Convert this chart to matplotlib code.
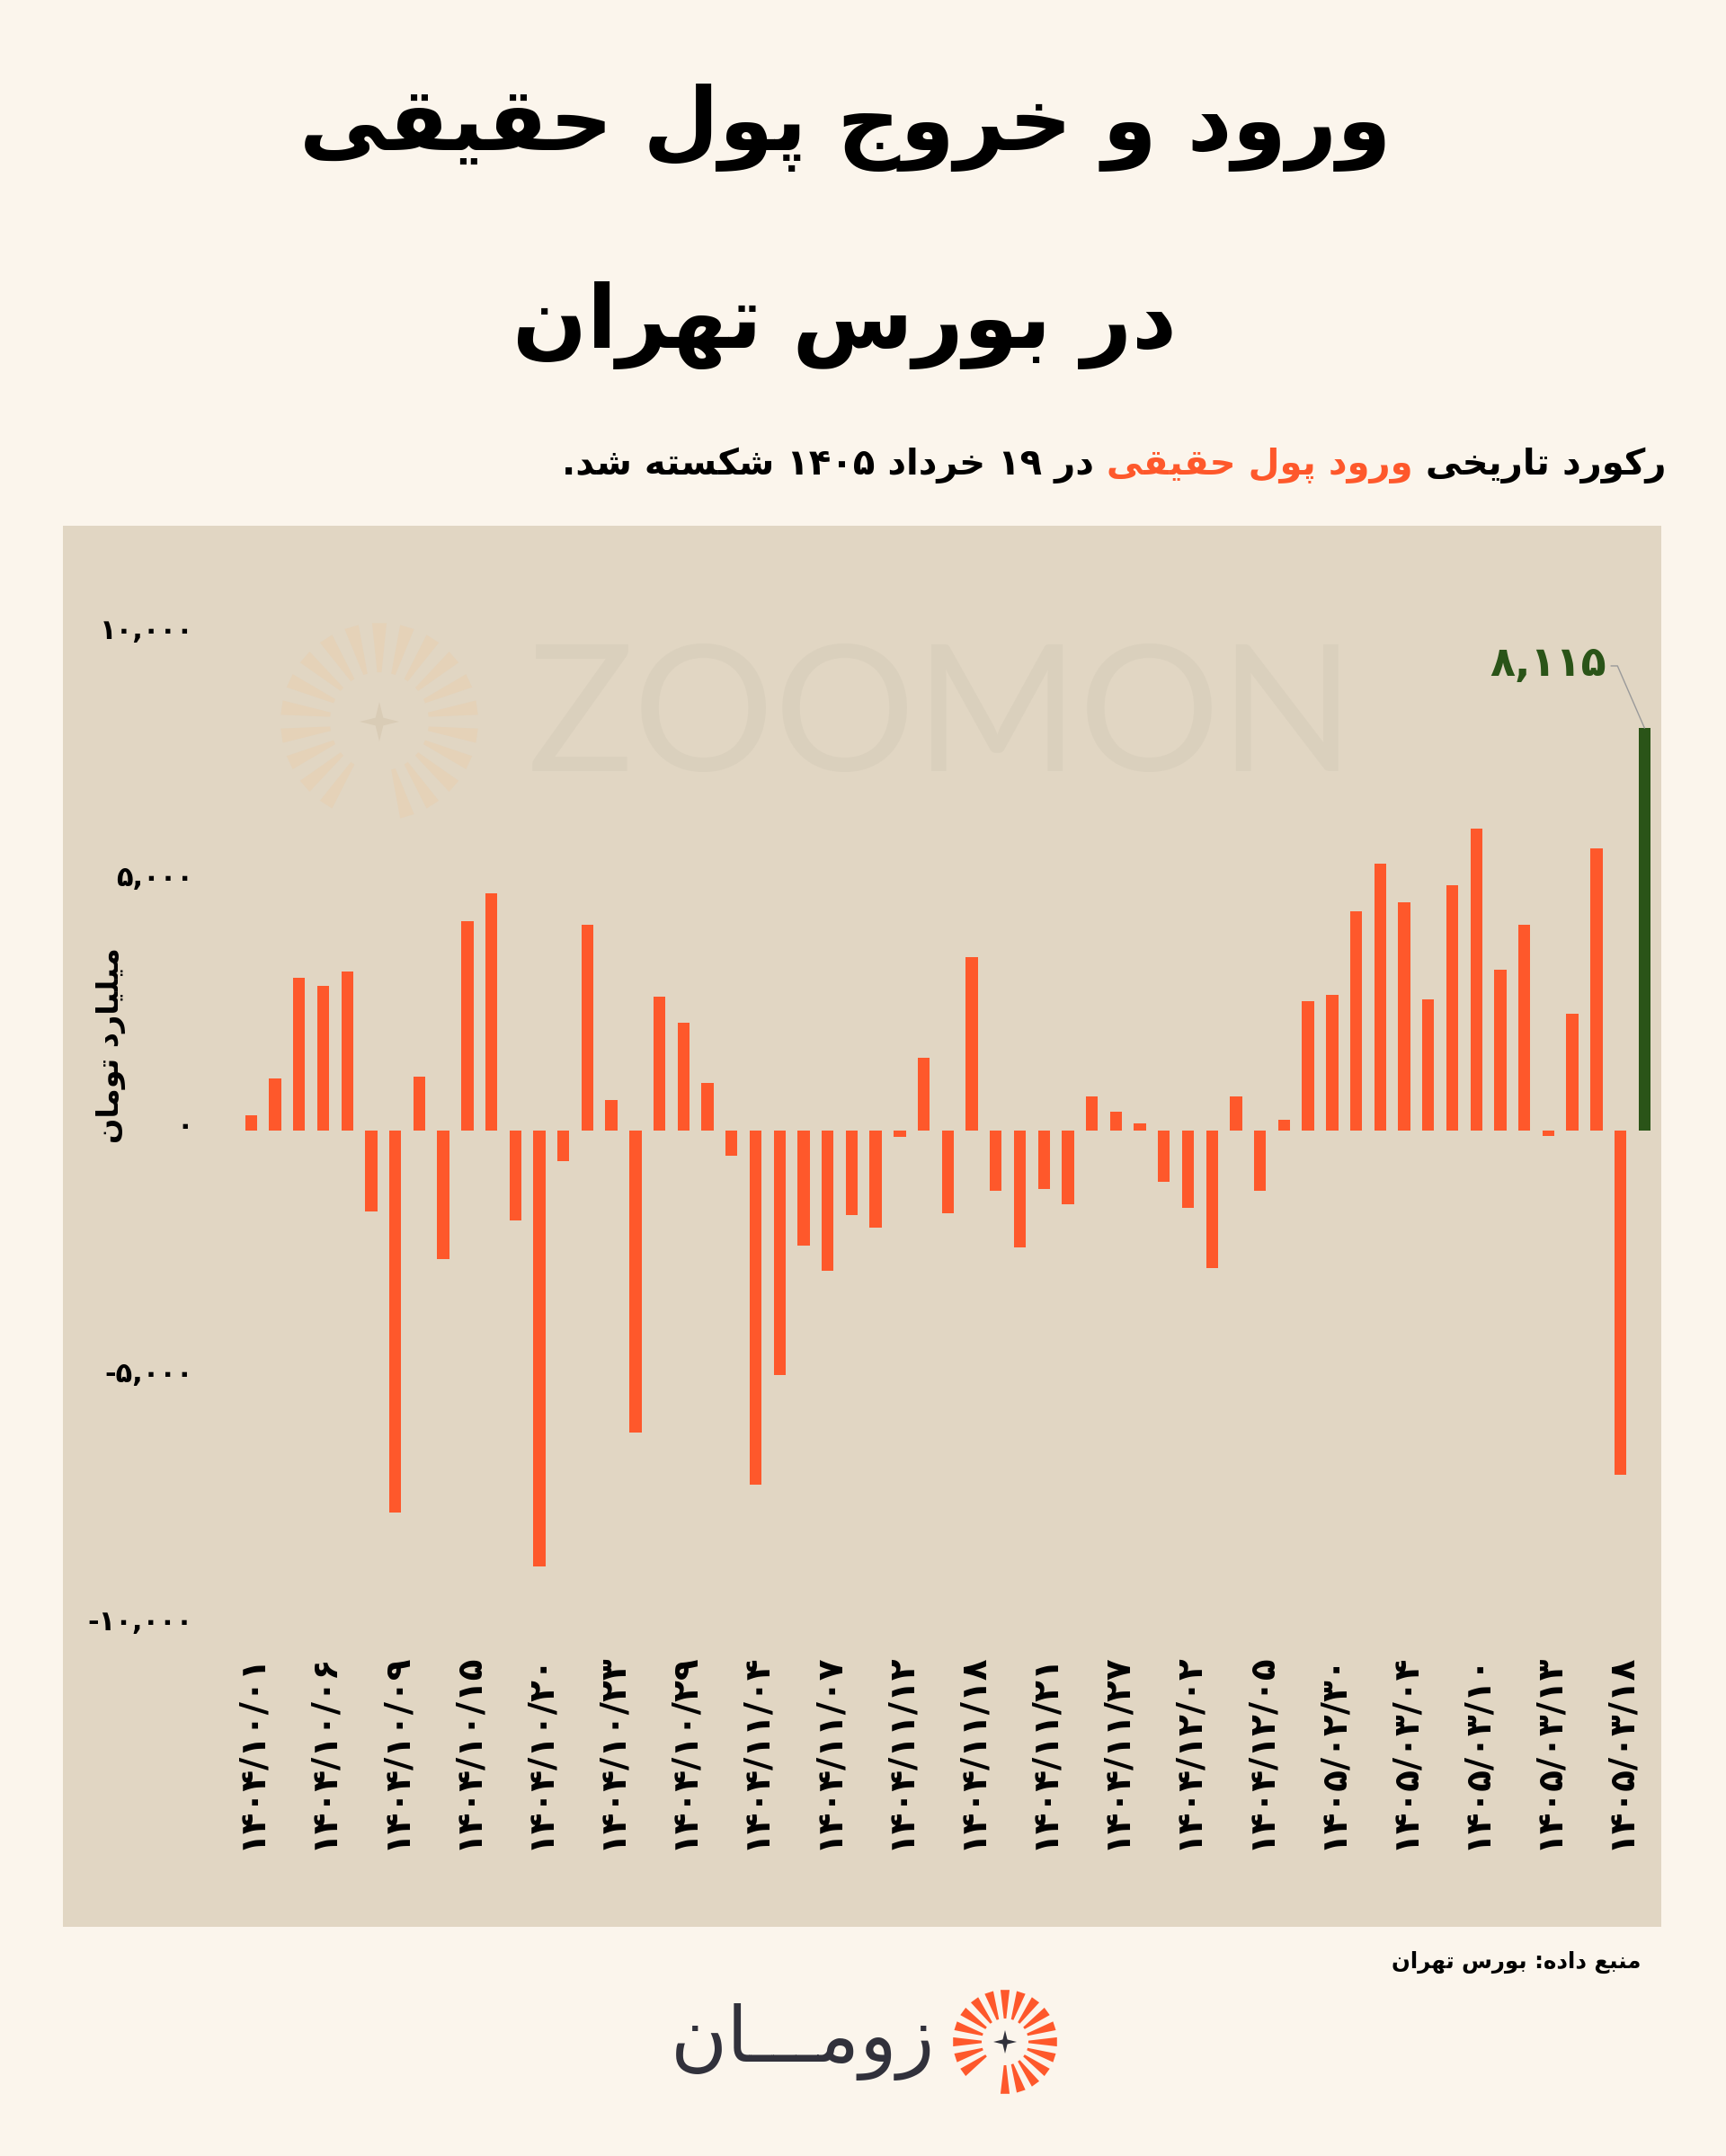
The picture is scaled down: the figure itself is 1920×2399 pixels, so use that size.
import re
import matplotlib
matplotlib.use("Agg")
import matplotlib.pyplot as plt
import numpy as np
from matplotlib.patches import Rectangle, Polygon
from matplotlib.transforms import ScaledTranslation
from matplotlib import font_manager
from matplotlib.ft2font import FT2Font

plt.rcParams['font.family'] = ['DejaVu Sans']

# ---- data (billion toman, net real-investor money flow) ----
dates = ["۱۴۰۴/۱۰/۰۱", "۱۴۰۴/۱۰/۰۶", "۱۴۰۴/۱۰/۰۹", "۱۴۰۴/۱۰/۱۵", "۱۴۰۴/۱۰/۲۰",
         "۱۴۰۴/۱۰/۲۳", "۱۴۰۴/۱۰/۲۹", "۱۴۰۴/۱۱/۰۴", "۱۴۰۴/۱۱/۰۷", "۱۴۰۴/۱۱/۱۲",
         "۱۴۰۴/۱۱/۱۸", "۱۴۰۴/۱۱/۲۱", "۱۴۰۴/۱۱/۲۷", "۱۴۰۴/۱۲/۰۲", "۱۴۰۴/۱۲/۰۵",
         "۱۴۰۵/۰۲/۳۰", "۱۴۰۵/۰۳/۰۴", "۱۴۰۵/۰۳/۱۰", "۱۴۰۵/۰۳/۱۳", "۱۴۰۵/۰۳/۱۸"]
values = [300, 1050, 3070, 2910, 3200, -1650, -7710, 1070, -2600, 4210,
          4780, -1820, -8800, -630, 4140, 610, -6100, 2690, 2170, 950,
          -520, -7150, -4950, -2330, -2840, -1710, -1960, -130, 1460, -1670,
          3490, -1230, -2370, -1190, -1500, 680, 370, 140, -1050, -1560,
          -2780, 680, -1220, 210, 2610, 2730, 4420, 5370, 4590, 2640,
          4940, 6080, 3240, 4140, -120, 2340, 5690, -6950, 8115]
yticks = [-10000, -5000, 0, 5000, 10000]

title1 = "ورود و خروج پول حقیقی"
title2 = "در بورس تهران"
sub_parts = ["رکورد تاریخی ", "ورود پول حقیقی", " در ۱۹ خرداد ۱۴۰۵ شکسته شد."]
ylabel = "میلیارد تومان"
source = "منبع داده: بورس تهران"
brand = "زومـــان"

BG = "#FBF5EC"
PANEL = "#E1D6C3"
ORANGE = "#FE582B"
GREEN = "#2A5418"
DARK = "#31313B"

# ---- simple Persian shaping + RTL ordering ----
FORMS = {
    'ا': ('\uFE8D', '\uFE8E', None, None),
    'ب': ('\uFE8F', '\uFE90', '\uFE91', '\uFE92'),
    'پ': ('\uFB56', '\uFB57', '\uFB58', '\uFB59'),
    'ت': ('\uFE95', '\uFE96', '\uFE97', '\uFE98'),
    'ج': ('\uFE9D', '\uFE9E', '\uFE9F', '\uFEA0'),
    'ح': ('\uFEA1', '\uFEA2', '\uFEA3', '\uFEA4'),
    'خ': ('\uFEA5', '\uFEA6', '\uFEA7', '\uFEA8'),
    'د': ('\uFEA9', '\uFEAA', None, None),
    'ر': ('\uFEAD', '\uFEAE', None, None),
    'ز': ('\uFEAF', '\uFEB0', None, None),
    'س': ('\uFEB1', '\uFEB2', '\uFEB3', '\uFEB4'),
    'ش': ('\uFEB5', '\uFEB6', '\uFEB7', '\uFEB8'),
    'ع': ('\uFEC9', '\uFECA', '\uFECB', '\uFECC'),
    'ق': ('\uFED5', '\uFED6', '\uFED7', '\uFED8'),
    'ک': ('\uFB8E', '\uFB8F', '\uFB90', '\uFB91'),
    'ل': ('\uFEDD', '\uFEDE', '\uFEDF', '\uFEE0'),
    'م': ('\uFEE1', '\uFEE2', '\uFEE3', '\uFEE4'),
    'ن': ('\uFEE5', '\uFEE6', '\uFEE7', '\uFEE8'),
    'ه': ('\uFEE9', '\uFEEA', '\uFEEB', '\uFEEC'),
    'و': ('\uFEED', '\uFEEE', None, None),
    'ی': ('\uFBFC', '\uFBFD', '\uFBFE', '\uFBFF'),
}
FALLBACK = {
    'ک': ('\uFED9', '\uFEDA', '\uFEDB', '\uFEDC'),
    'ی': ('\uFEEF', '\uFEF0', '\uFEF3', '\uFEF4'),
}

bold_path = font_manager.findfont(font_manager.FontProperties(family='DejaVu Sans', weight='bold'))
cmap = set(FT2Font(bold_path).get_charmap().keys())
for k, alt in FALLBACK.items():
    if any(ord(g) not in cmap for g in FORMS[k]):
        FORMS[k] = alt


def shape(s):
    out = []
    for i, c in enumerate(s):
        if c not in FORMS:
            out.append(c)
            continue
        f = FORMS[c]
        prev = s[i - 1] if i > 0 else ''
        nxt = s[i + 1] if i + 1 < len(s) else ''
        jp = prev == 'ـ' or (prev in FORMS and FORMS[prev][2] is not None)
        jn = f[2] is not None and (nxt == 'ـ' or nxt in FORMS)
        if jp and jn:
            out.append(f[3])
        elif jp:
            out.append(f[1])
        elif jn:
            out.append(f[2])
        else:
            out.append(f[0])
    return ''.join(out)


def rtl(s):
    parts = re.findall(r'[0-9۰-۹][0-9۰-۹,/]*[0-9۰-۹]|[0-9۰-۹]|.', shape(s))
    return ''.join(reversed(parts))


fa = str.maketrans('0123456789', '۰۱۲۳۴۵۶۷۸۹')

# ---- figure / background layer in pixel coordinates ----
W, H = 1920, 2399
fig = plt.figure(figsize=(W / 100, H / 100), dpi=100)
fig.patch.set_facecolor(BG)
bg = fig.add_axes([0, 0, 1, 1], zorder=0)
bg.set_xlim(0, W)
bg.set_ylim(H, 0)
bg.axis('off')
bg.add_patch(Rectangle((70, 585), 1778, 1559, color=PANEL, lw=0))

renderer = fig.canvas.get_renderer()


def fit(t, width):
    bb = t.get_window_extent(renderer)
    t.set_fontsize(t.get_fontsize() * width / bb.width)
    return t


def burst(cx, cy, r_in, r_out, color, n=20, gap=(222, 268), half=4.5, alpha=1.0, z=1):
    for a in np.linspace(0, 360, n, endpoint=False) + 90:
        a = a % 360
        if gap[0] < a < gap[1]:
            continue
        pts = []
        for r, d in [(r_in, -half * 0.6), (r_out, -half), (r_out, half), (r_in, half * 0.6)]:
            t = np.radians(a + d)
            pts.append((cx + r * np.cos(t), cy - r * np.sin(t)))
        bg.add_patch(Polygon(pts, closed=True, color=color, lw=0, alpha=alpha, zorder=z))


def star(cx, cy, r, color, z=2):
    pts = []
    for k in range(8):
        t = np.radians(90 + k * 45)
        rr = r if k % 2 == 0 else r * 0.28
        pts.append((cx + rr * np.cos(t), cy - rr * np.sin(t)))
    bg.add_patch(Polygon(pts, closed=True, color=color, lw=0, zorder=z))


# watermark
burst(422, 803, 55, 110, "#E5D2B8", n=22, gap=(238, 282), half=4.2)
star(422, 803, 22, "#D9CCB6")
wm = bg.text(587, 803, "ZOOMON", fontsize=140, color="#DAD0BD",
             family=['Lato', 'DejaVu Sans'], fontweight='normal', ha='left', va='center')
fit(wm, 920)

# titles
t1 = bg.text(940, 142, rtl(title1), fontsize=80, fontweight='bold', ha='center', va='center', color='black')
fit(t1, 1215)
bg.text(940, 362, rtl(title2), fontsize=t1.get_fontsize(), fontweight='bold',
        ha='center', va='center', color='black')

# subtitle with coloured middle part
pieces = []
for s, c in zip(sub_parts, ['black', ORANGE, 'black']):
    pieces.append(bg.text(0, 528, rtl(s), fontsize=30, fontweight='bold', color=c, ha='right', va='baseline'))
total = sum(p.get_window_extent(renderer).width for p in pieces)
scale = 1227 / total
xr = 1853
for p in pieces:
    p.set_fontsize(p.get_fontsize() * scale)
    p.set_x(xr)
    xr -= p.get_window_extent(renderer).width

# axis label, source, brand
bg.text(123, 1163, rtl(ylabel), rotation=90, fontsize=24, fontweight='bold', ha='center', va='center')
src = bg.text(1825, 2183, rtl(source), fontsize=18, fontweight='bold', ha='right', va='center')
fit(src, 278)
br = bg.text(1040, 2272, rtl(brand), fontsize=60, color=DARK, ha='right', va='center')
fit(br, 295)
burst(1118, 2272, 26, 58, ORANGE, n=20, gap=(222, 268), half=5.0)
star(1118, 2272, 13, DARK)

# ---- main chart ----
zero_px, px_per_unit = 1257.5, 55.15 / 1000
ax_top, ax_bot, ax_left, ax_right = 620, 1830, 240, 1848
ax = fig.add_axes([ax_left / W, 1 - ax_bot / H, (ax_right - ax_left) / W, (ax_bot - ax_top) / H], zorder=2)
ax.patch.set_alpha(0)

x = np.arange(len(values))
colors = [ORANGE] * (len(values) - 1) + [GREEN]
ax.bar(x, values, width=0.5, color=colors, zorder=3)

step = 26.72
ax.set_xlim(-(279.3 - ax_left) / step, len(values) - 1 + (ax_right - 1829.3) / step)
ax.set_ylim((zero_px - ax_bot) / px_per_unit, (zero_px - ax_top) / px_per_unit)

ax.set_xticks(x[::3])
ax.set_xticklabels(dates, rotation=90, fontsize=28, fontweight='bold')
ax.set_yticks(yticks)
ax.set_yticklabels([f"{v:,}".translate(fa) for v in yticks], fontsize=22, fontweight='bold')
ax.tick_params(axis='x', length=0, pad=7)
ax.tick_params(axis='y', length=0, pad=18)
lift = ScaledTranslation(0, 5 / 72, fig.dpi_scale_trans)
for lab in ax.get_yticklabels():
    lab.set_transform(lab.get_transform() + lift)
for sp in ax.spines.values():
    sp.set_visible(False)

# record annotation
rec = values[-1]
xi = x[-1]
ax.text(xi - 42 / step, rec + 70 / px_per_unit, f"{rec:,}".translate(fa), color=GREEN,
        fontsize=33, fontweight='bold', ha='right', va='center')
ax.plot([xi - 37 / step, xi - 30 / step, xi], [rec + 69 / px_per_unit, rec + 69 / px_per_unit, rec],
        color='#9A9A9A', lw=1, zorder=4)

fig.savefig("out.png", dpi=100, facecolor=BG)
